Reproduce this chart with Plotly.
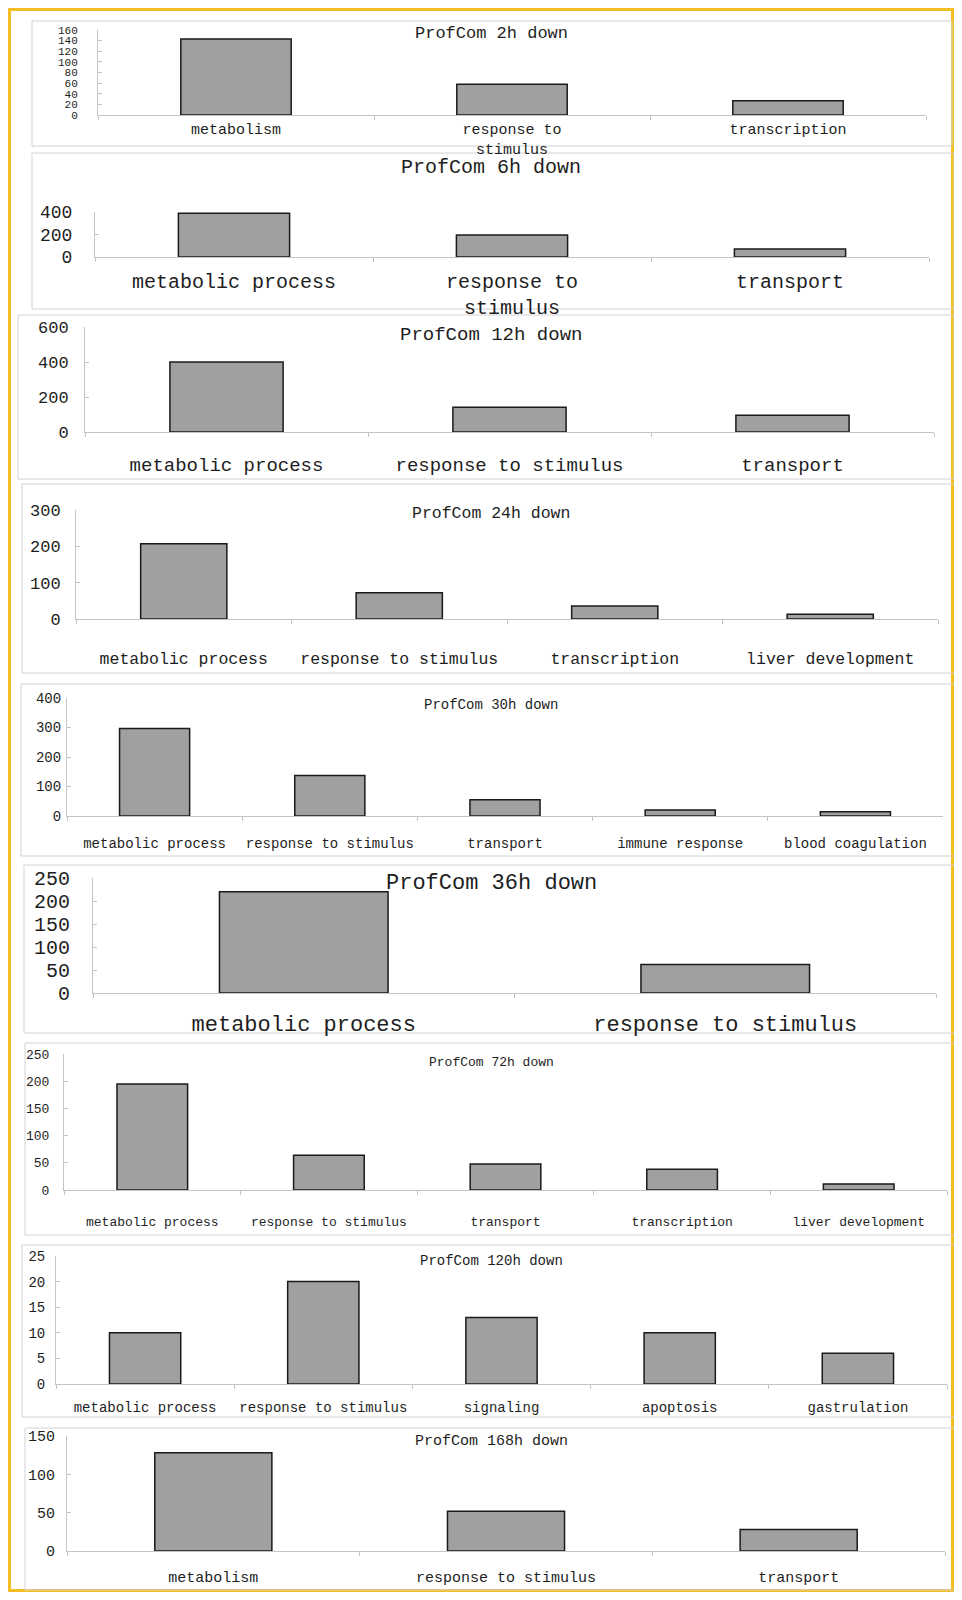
import plotly.graph_objects as go

# The page body adds an 8px margin, so the figure is sized to fit inside it.
OX, OY = 8, 8
W, H = 962 - 2 * OX, 1600 - 2 * OY

# ---------------- data ----------------
titles = ["ProfCom 2h down", "ProfCom 6h down", "ProfCom 12h down", "ProfCom 24h down",
          "ProfCom 30h down", "ProfCom 36h down", "ProfCom 72h down", "ProfCom 120h down",
          "ProfCom 168h down"]

cats_2h = ["metabolism", "response to stimulus", "transcription"]
vals_2h = [143, 58, 27]
cats_6h = ["metabolic process", "response to stimulus", "transport"]
vals_6h = [390, 195, 72]
cats_12h = ["metabolic process", "response to stimulus", "transport"]
vals_12h = [400, 142, 96]
cats_24h = ["metabolic process", "response to stimulus", "transcription", "liver development"]
vals_24h = [207, 72, 36, 13]
cats_30h = ["metabolic process", "response to stimulus", "transport", "immune response", "blood coagulation"]
vals_30h = [297, 137, 55, 20, 14]
cats_36h = ["metabolic process", "response to stimulus"]
vals_36h = [220, 62]
cats_72h = ["metabolic process", "response to stimulus", "transport", "transcription", "liver development"]
vals_72h = [195, 64, 48, 38, 11]
cats_120h = ["metabolic process", "response to stimulus", "signaling", "apoptosis", "gastrulation"]
vals_120h = [10, 20, 13, 10, 6]
cats_168h = ["metabolism", "response to stimulus", "transport"]
vals_168h = [128, 52, 28]

# y-axis ticks (max, step)
ymax = [160, 400, 600, 300, 400, 250, 250, 25, 150]
ystep = [20, 200, 200, 100, 100, 50, 50, 5, 50]

# tick labels that wrap onto two lines
wrapped = {0: {"response to stimulus": "response to<br>stimulus"},
           1: {"response to stimulus": "response to<br>stimulus"}}

cats = [cats_2h, cats_6h, cats_12h, cats_24h, cats_30h, cats_36h, cats_72h, cats_120h, cats_168h]
vals = [vals_2h, vals_6h, vals_12h, vals_24h, vals_30h, vals_36h, vals_72h, vals_120h, vals_168h]

# ---------------- layout (page pixels) ----------------
ax_x0 = [98, 95, 85, 76, 67, 93, 64, 56, 67]
ax_x1 = [926, 929, 934, 938, 943, 936, 947, 947, 945]
ax_top = [30, 212, 327, 510, 698, 878, 1054, 1256, 1436]
ax_zero = [115, 257, 432, 619, 816, 993, 1190, 1384, 1551]
boxes = [(32, 21, 952, 146), (32, 153, 954, 309), (18, 315, 954, 479), (22, 484, 958, 673),
         (21, 684, 956, 856), (24, 865, 958, 1033), (25, 1043, 958, 1235), (22, 1245, 956, 1417),
         (25, 1428, 956, 1590)]
title_y = [33, 168, 335, 514, 705, 884, 1062, 1261, 1441]
title_font = [17, 20, 19, 16.5, 14, 22, 13, 14, 15]
lab_font = [15, 20, 19, 16.5, 14, 22, 13, 14, 15]
ytick_font = [11, 18, 17, 17, 14, 20, 13, 14, 15]
ytick_gap = [21, 22, 16, 15, 6, 22, 15, 11, 12]
xlab_gap = [5, 12, 21, 30, 20, 17, 25, 16, 18]


def fx(p):
    return (p - OX) / W


def fy(p):
    return 1 - (p - OY) / H


FONT = "Liberation Mono, Courier New, monospace"
TXT = "#1e1e1e"
AXC = "#c4c4c4"

fig = go.Figure()
shapes = [
    dict(type="rect", xref="paper", yref="paper", x0=1.5 / W, x1=1 - 1.5 / W, y0=1.5 / H, y1=1 - 1.5 / H,
         line=dict(color="#F2BE22", width=3), fillcolor="white", layer="below"),
]
annotations = []

for i in range(9):
    n = "" if i == 0 else str(i + 1)
    fig.add_trace(go.Bar(
        x=cats[i], y=vals[i], xaxis="x" + n, yaxis="y" + n,
        marker=dict(color="#a0a0a0", line=dict(color="#1a1a1a", width=1.5)),
        hoverinfo="skip", showlegend=False,
    ))
    ttext = [wrapped.get(i, {}).get(c, c) for c in cats[i]]
    fig.layout["xaxis" + n] = dict(
        domain=[fx(ax_x0[i]), fx(ax_x1[i])], anchor="y" + n,
        type="category", tickvals=cats[i], ticktext=ttext, tickangle=0, automargin=False,
        showline=True, linecolor=AXC, linewidth=1, showgrid=False, zeroline=False,
        ticks="outside", ticklen=4, tickcolor=AXC, tickson="boundaries",
        tickfont=dict(family=FONT, size=lab_font[i], color=TXT),
        ticklabelstandoff=max(xlab_gap[i] - 6, 0), fixedrange=True,
    )
    fig.layout["yaxis" + n] = dict(
        domain=[fy(ax_zero[i]), fy(ax_top[i])], anchor="x" + n,
        range=[0, ymax[i]], tickvals=list(range(0, ymax[i] + 1, ystep[i])), automargin=False,
        showline=True, linecolor=AXC, linewidth=1, showgrid=False, zeroline=False,
        ticks="inside", ticklen=4, tickcolor=AXC,
        tickfont=dict(family=FONT, size=ytick_font[i], color=TXT),
        ticklabelstandoff=max(ytick_gap[i] - 4, 0), fixedrange=True,
    )
    bx0, by0, bx1, by1 = boxes[i]
    shapes.append(dict(type="rect", xref="paper", yref="paper",
                       x0=fx(bx0), x1=fx(bx1), y0=fy(by1), y1=fy(by0),
                       line=dict(color="#d2d2d2", width=1), layer="below"))
    annotations.append(dict(text=titles[i], xref="paper", yref="paper",
                            x=fx(491), y=fy(title_y[i]), xanchor="center", yanchor="middle",
                            showarrow=False, font=dict(family=FONT, size=title_font[i], color=TXT)))

fig.update_layout(
    template="none",
    width=W, height=H, autosize=False,
    margin=dict(l=0, r=0, t=0, b=0, pad=0),
    paper_bgcolor="white", plot_bgcolor="rgba(0,0,0,0)",
    bargap=0.6, shapes=shapes, annotations=annotations,
)

fig.write_html("out.html")
